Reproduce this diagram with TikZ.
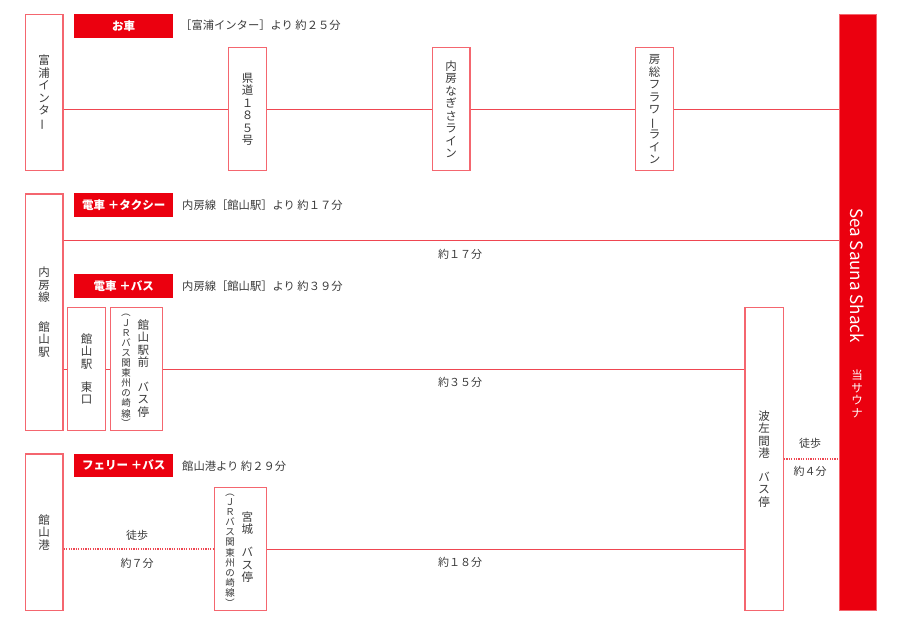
\documentclass[tikz,border=0pt]{standalone}
\usepackage{fontspec}
\usepackage{graphicx}
\newfontfamily\jp{Noto Sans CJK JP}
\definecolor{boxred}{HTML}{F4666F}
\definecolor{linered}{HTML}{EF4651}
\definecolor{fillred}{HTML}{EB000F}
\definecolor{txt}{HTML}{3A3A3A}
\newcommand\jpv{\jp\fontsize{11.5}{12.5}\selectfont}
\newcommand\jps{\jp\fontsize{9.5}{10.1}\selectfont}
\newcommand\jph{\jp\fontsize{11.3}{14}\selectfont}
\newcommand\vbar{\rotatebox[origin=c]{90}{ー}}
\newcommand\vlp{\rotatebox[origin=c]{-90}{（}}
\newcommand\vrp{\rotatebox[origin=c]{-90}{）}}
\begin{document}
\begin{tikzpicture}[x=1pt,y=-1pt,
 box/.style={draw=boxred,line width=1.3pt,fill=white,inner sep=0pt,anchor=north west,font=\jpv,align=center,text=txt},
 col/.style={inner sep=0pt,font=\jpv,align=center,text=txt},
 scol/.style={inner sep=0pt,font=\jps,align=center,text=txt},
 tag/.style={fill=fillred,inner sep=0pt,minimum width=99pt,minimum height=23.5pt,anchor=north west,font=\jp\bfseries\fontsize{11.5}{12}\selectfont,text=white},
 note/.style={anchor=west,inner sep=0pt,font=\jph,text=txt},
 small/.style={inner sep=0pt,font=\jp\fontsize{11}{13}\selectfont,text=txt},
 conn/.style={draw=linered,line width=0.9pt},
 walk/.style={draw=linered,line width=1.1pt,dash pattern=on 1.2pt off 1.2pt}]
\path[use as bounding box] (0,0) rectangle (900,631);

% right bar
\node[fill=fillred,draw=boxred,line width=0.8pt,minimum width=37.6pt,minimum height=596pt,anchor=north west,inner sep=0pt] (bar) at (838.7,14) {};
\node[rotate=-90,text=white,inner sep=0pt,font=\jp\fontsize{17}{17}\selectfont] (sss) at (857.5,275.5) {Sea Sauna Shack};
\node[col,text=white] (tou) at (857,394) {当\\サ\\ウ\\ナ};

% row 1
\node[box,minimum width=37.7pt,minimum height=156pt] (fu) at (24.7,14) {富\\浦\\イ\\ン\\タ\\\vbar};
\node[box,minimum width=38pt,minimum height=123pt] (kendo) at (228,47) {県\\道\\１\\８\\５\\号};
\node[box,minimum width=37.6pt,minimum height=123pt] (nagisa) at (431.7,47) {内\\房\\な\\ぎ\\さ\\ラ\\イ\\ン};
\node[box,minimum width=38pt,minimum height=123pt] (flower) at (635,47) {房\\総\\フ\\ラ\\ワ\\\vbar\\ラ\\イ\\ン};
\node[tag] (t1) at (74,14) {お車};
\node[note] (n1) at (180,25.5) {［富浦インター］より 約２５分};

% row 2
\node[box,minimum width=37.7pt,minimum height=236.7pt] (tate) at (24.7,193.3) {内\\房\\線\\[17pt]館\\山\\駅};
\node[tag] (t2) at (74,193.3) {電車 ＋タクシー};
\node[note] (n2) at (182,205.2) {内房線［館山駅］より 約１７分};
\node[tag] (t3) at (74,274) {電車 ＋バス};
\node[note] (n3) at (182,286) {内房線［館山駅］より 約３９分};
\node[box,minimum width=38pt,minimum height=123pt] (higashi) at (67,307) {館\\山\\駅\\[10.5pt]東\\口};
\node[box,minimum width=52pt,minimum height=123pt] (ekimae) at (110,307) {};
\node[col] (ekimaeA) at (143.3,368.5) {館\\山\\駅\\前\\[12pt]バ\\ス\\停};
\node[scol] (ekimaeB) at (126,368) {\vlp\\Ｊ\\Ｒ\\バ\\ス\\関\\東\\州\\の\\崎\\線\\\vrp};
\node[box,minimum width=38.4pt,minimum height=303.3pt] (hasama) at (744.3,306.7) {波\\左\\間\\港\\[11pt]バ\\ス\\停};

% row 3
\node[box,minimum width=37.7pt,minimum height=156.7pt] (port) at (24.7,453.3) {館\\山\\港};
\node[tag] (t4) at (74,453.3) {フェリー ＋バス};
\node[note] (n4) at (182,466) {館山港より 約２９分};
\node[box,minimum width=52.3pt,minimum height=123.3pt] (miyagi) at (213.7,486.7) {};
\node[col] (miyagiA) at (247.3,547.2) {宮\\城\\[10.5pt]バ\\ス\\停};
\node[scol] (miyagiB) at (230,547.4) {\vlp\\Ｊ\\Ｒ\\バ\\ス\\関\\東\\州\\の\\崎\\線\\\vrp};

% labels
\node[small] (l17) at (460,254.5) {約１７分};
\node[small] (l35) at (460,382) {約３５分};
\node[small] (l18) at (460,562.5) {約１８分};
\node[small] (w7a) at (137,535) {徒歩};
\node[small] (w7b) at (137,563) {約７分};
\node[small] (w4a) at (810,443.3) {徒歩};
\node[small] (w4b) at (810,471.5) {約４分};

% connectors
\coordinate (yTaxi) at (0,240.7);
\draw[conn] (fu.east |- kendo.west) -- (kendo.west);
\draw[conn] (kendo.east) -- (nagisa.west);
\draw[conn] (nagisa.east) -- (flower.west);
\draw[conn] (flower.east) -- (flower.east -| bar.west);
\draw[conn] (tate.east |- yTaxi) -- (bar.west |- yTaxi);
\draw[conn] (tate.east |- higashi.west) -- (higashi.west);
\draw[conn] (higashi.east) -- (ekimae.west);
\draw[conn] (ekimae.east) -- (ekimae.east -| hasama.west);
\draw[walk] (port.east |- miyagi.west) -- (miyagi.west);
\draw[conn] (miyagi.east) -- (miyagi.east -| hasama.west);
\draw[walk] (hasama.east) -- (hasama.east -| bar.west);
\end{tikzpicture}
\end{document}
